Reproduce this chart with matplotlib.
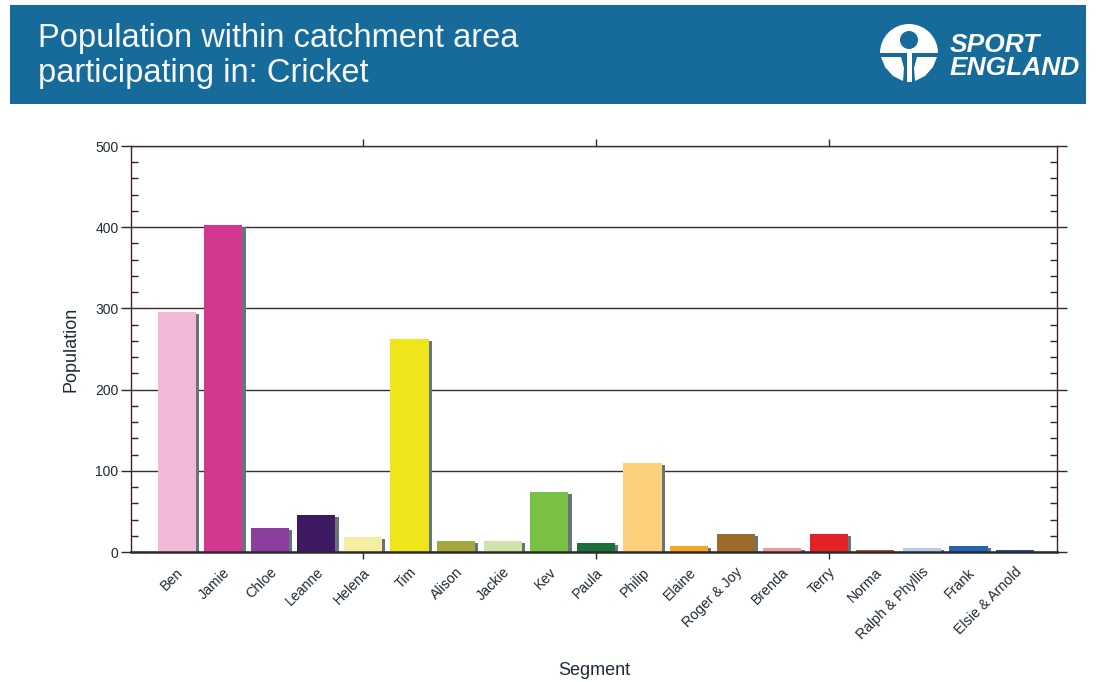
import matplotlib
matplotlib.use("Agg")
import matplotlib.pyplot as plt
from matplotlib.patches import Rectangle, Wedge, Circle, Polygon
from matplotlib.ticker import MultipleLocator, FixedLocator
import numpy as np

plt.rcParams["font.family"] = ["Liberation Sans", "DejaVu Sans"]

# Segment data
segments = ["Ben", "Jamie", "Chloe", "Leanne", "Helena", "Tim", "Alison", "Jackie",
            "Kev", "Paula", "Philip", "Elaine", "Roger & Joy", "Brenda", "Terry",
            "Norma", "Ralph & Phyllis", "Frank", "Elsie & Arnold"]
population = [296, 403, 29, 45, 18, 262, 14, 13, 74, 11, 110, 7, 22, 5, 22, 2, 5, 7, 2]
colors = ["#f2b8d8", "#d4378f", "#8a3f9f", "#3e1a62", "#f3eea2", "#efe51a", "#a5a83e",
          "#cfe4aa", "#78c144", "#1b6f38", "#fdd07c", "#f7a627", "#9b6b2b", "#f39a9b",
          "#e32129", "#c24b2a", "#b3cce8", "#2563b4", "#2f4d9d"]

W, H = 1096, 682
fig = plt.figure(figsize=(W / 100, H / 100), dpi=100)
fig.patch.set_facecolor("white")

# Header banner drawn in pixel coordinates
hdr = fig.add_axes([0, 0, 1, 1], zorder=0)
hdr.set_xlim(0, W)
hdr.set_ylim(H, 0)
hdr.axis("off")
blue = "#166b9b"
hdr.add_patch(Rectangle((10, 5), 1076, 99, facecolor=blue, edgecolor="none"))
hdr.text(38, 47, "Population within catchment area", color="#f6f6f6", fontsize=23.5,
         ha="left", va="baseline")
hdr.text(38, 82, "participating in: Cricket", color="#f6f6f6", fontsize=23.5,
         ha="left", va="baseline")

# Logo mark
hdr.add_patch(Wedge((909, 53), 29, 180, 360, facecolor="white", edgecolor="none"))
hdr.add_patch(Circle((909, 40), 9, facecolor=blue, edgecolor="none"))
hdr.add_patch(Rectangle((906.5, 50), 5, 32, facecolor="white", edgecolor="none"))
hdr.add_patch(Polygon([(881, 57), (901, 57), (904, 68), (903, 81), (893, 76), (885, 67)],
                      closed=True, facecolor="white", edgecolor="none"))
hdr.add_patch(Polygon([(937, 57), (917, 57), (914, 68), (915, 81), (925, 76), (933, 67)],
                      closed=True, facecolor="white", edgecolor="none"))
hdr.text(950, 52, "SPORT", color="white", fontsize=19, fontweight="bold",
         fontstyle="italic", ha="left", va="baseline")
hdr.text(950, 75, "ENGLAND", color="white", fontsize=19, fontweight="bold",
         fontstyle="italic", ha="left", va="baseline")

# Main chart
ax = fig.add_axes([131 / W, 1 - 552 / H, 926 / W, 406 / H], zorder=1)
x = np.arange(len(segments))
vals = np.array(population, dtype=float)
bw = 0.82
shadow_dx = 0.07
ax.bar(x + shadow_dx, np.clip(vals - 2.5, 0, None), width=bw, color="#66757c",
       zorder=2, linewidth=0)
ax.bar(x, vals, width=bw, color=colors, zorder=3, linewidth=0)

ax.set_xlim(-0.98, 18.9)
ax.set_ylim(0, 500)

grid_c = "#3d2c29"
ax.yaxis.set_major_locator(MultipleLocator(100))
ax.yaxis.set_minor_locator(MultipleLocator(20))
ax.grid(axis="y", which="major", color=grid_c, linewidth=1.0, zorder=1)
ax.set_axisbelow(True)

# Category labels sit slightly right of each bar centre (ticks themselves hidden)
label_offset = 0.1
ax.set_xticks(x + label_offset)
ax.set_xticklabels(segments, rotation=45, ha="right", va="center",
                   rotation_mode="anchor", fontsize=10.2, color="#1f2a38")
ax.xaxis.set_minor_locator(FixedLocator([4, 9, 14]))
ax.tick_params(axis="x", which="major", length=0, pad=13)
ax.tick_params(axis="x", which="minor", length=5, direction="out", top=True,
               bottom=True, color="#2a2a2a", width=1)

ax.tick_params(axis="y", which="major", direction="out", length=7, left=True,
               right=True, color="#2a2a2a", width=1, labelsize=10,
               labelcolor="#1f2a38", pad=2)
ax.tick_params(axis="y", which="minor", direction="in", length=5, left=True,
               right=True, color="#2a2a2a", width=1)

for side in ["left", "right"]:
    ax.spines[side].set_color("#3a2520")
    ax.spines[side].set_linewidth(1.0)
ax.spines["top"].set_color(grid_c)
ax.spines["top"].set_linewidth(1.0)
ax.spines["bottom"].set_color("#2a2a2a")
ax.spines["bottom"].set_linewidth(1.8)
ax.spines["bottom"].set_zorder(5)

ax.set_ylabel("Population", fontsize=13, color="#1f2a38")
ax.yaxis.set_label_coords(-0.056, 0.5)
ax.set_xlabel("Segment", fontsize=13, color="#1f2a38")
ax.xaxis.set_label_coords(0.5, -0.27)

fig.savefig("out.png", dpi=100, facecolor="white")
